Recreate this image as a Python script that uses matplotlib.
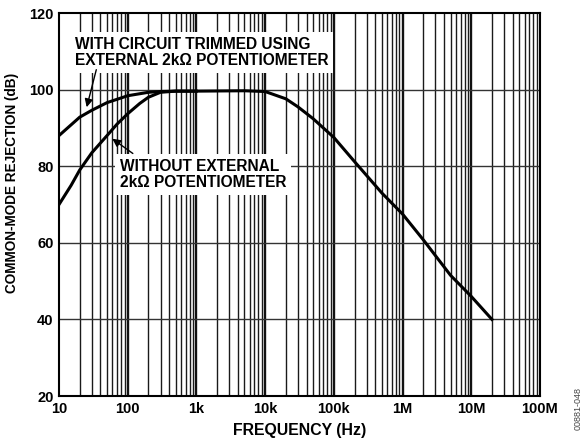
import numpy as np
import matplotlib.pyplot as plt
from matplotlib.ticker import FixedLocator, NullFormatter

plt.rcParams['font.family'] = ['Liberation Sans', 'DejaVu Sans']

# Daten
f_trim = [10, 20, 30, 50, 100, 200, 300, 500, 1e3, 5e3, 1e4, 2e4, 3e4, 5e4,
          1e5, 2e5, 5e5, 1e6, 2e6, 5e6, 1e7, 2e7]
cmr_trim = [88, 92.8, 94.6, 96.6, 98.4, 99.3, 99.5, 99.6, 99.6, 99.7, 99.5,
            97.6, 95.5, 92.4, 87.5, 81.2, 73, 67.5, 60.8, 51.5, 46, 40]

f_untrim = [10, 15, 20, 30, 50, 70, 100, 150, 200, 300, 500, 1e3]
cmr_untrim = [70, 75, 79, 83.5, 88, 91, 93.7, 96.4, 98, 99.3, 99.6, 99.6]

xticks = [10, 100, 1e3, 1e4, 1e5, 1e6, 1e7, 1e8]
xticklabels = ['10', '100', '1k', '10k', '100k', '1M', '10M', '100M']
yticks = [20, 40, 60, 80, 100, 120]

fig = plt.figure(figsize=(5.82, 4.44), dpi=100)
ax = fig.add_axes([0.1014, 0.1081, 0.8264, 0.8626])

ax.set_xscale('log')
ax.set_xlim(10, 1e8)
ax.set_ylim(20, 120)

# Gitter
minors = [m * 10.0 ** e for e in range(1, 8) for m in range(2, 10)]
for x in minors:
    ax.axvline(x, color='#1a1a1a', lw=1.0, zorder=1)
for x in xticks[1:-1]:
    ax.axvline(x, color='#111111', lw=1.7, zorder=1)
for y in yticks[1:-1]:
    ax.axhline(y, color='#333333', lw=1.0, zorder=1)

ax.set_xticks(xticks)
ax.set_xticklabels(xticklabels)
ax.xaxis.set_minor_locator(FixedLocator(minors))
ax.xaxis.set_minor_formatter(NullFormatter())
ax.set_yticks(yticks)
ax.tick_params(which='both', length=0, labelsize=10.5, pad=4)
for lab in ax.get_xticklabels() + ax.get_yticklabels():
    lab.set_fontweight('bold')
for s in ax.spines.values():
    s.set_linewidth(1.5)

# Kurven
ax.plot(f_trim, cmr_trim, color='black', lw=2.2, zorder=4)
ax.plot(f_untrim, cmr_untrim, color='black', lw=2.2, zorder=4)

# Beschriftungen
box = dict(boxstyle='square,pad=0.3', facecolor='white', edgecolor='none')
ax.text(17.1, 113.8, 'WITH CIRCUIT TRIMMED USING\nEXTERNAL 2k\u03a9 POTENTIOMETER',
        fontsize=11.2, fontweight='bold', ha='left', va='top', linespacing=1.12,
        bbox=box, zorder=3)
ax.text(77, 81.9, 'WITHOUT EXTERNAL\n2k\u03a9 POTENTIOMETER',
        fontsize=11.2, fontweight='bold', ha='left', va='top', linespacing=1.12,
        bbox=box, zorder=3)

arrow = dict(arrowstyle='-|>', color='black', lw=1.0, mutation_scale=12)
ax.annotate('', xy=(24.7, 94.7), xytext=(35.7, 105.9), arrowprops=arrow, zorder=5)
ax.annotate('', xy=(55.3, 87.6), xytext=(128, 82.9), arrowprops=arrow, zorder=5)

ax.set_xlabel('FREQUENCY (Hz)', fontsize=11.4, fontweight='bold', labelpad=5)
ax.set_ylabel('COMMON-MODE REJECTION (dB)', fontsize=9.8, fontweight='bold')
ax.yaxis.set_label_coords(-0.083, 0.556)

fig.text(0.993, 0.081, '00881-048', rotation=90, fontsize=6.5, color='#444444',
         ha='center', va='center')

fig.savefig('out.png', dpi=100)
